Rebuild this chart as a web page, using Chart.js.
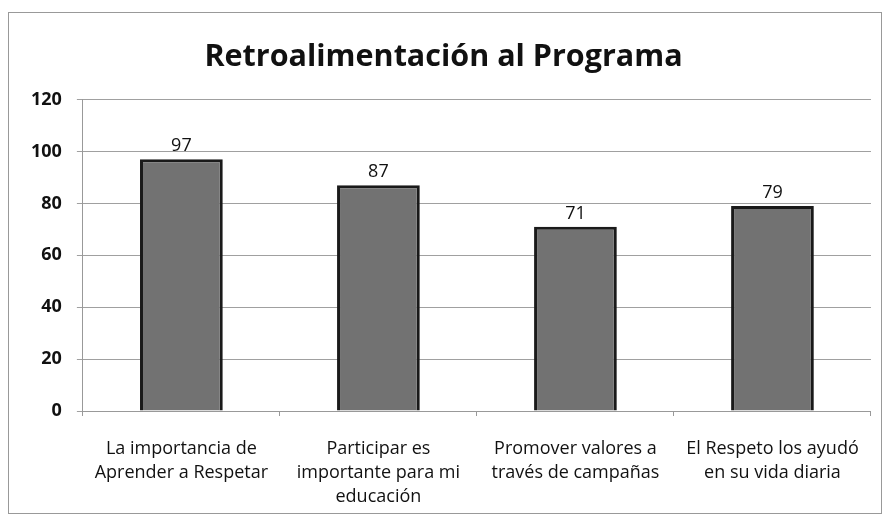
<!DOCTYPE html>
<html>
<head>
<meta charset="utf-8">
<script src="https://cdn.jsdelivr.net/npm/chart.js@4.4.0/dist/chart.umd.min.js"></script>
<style>
  body { margin: 0; background: #fff; }
  #box { position: absolute; left: 8px; top: 12px; width: 872px; height: 500px; border: 1px solid #999; }
</style>
</head>
<body>
<div id="box"><canvas id="myChart" width="872" height="500"></canvas></div>
<script>
var chartTitle = "Retroalimentación al Programa";
var Labels = [
  ["La importancia de", "Aprender a Respetar"],
  ["Participar es", "importante para mi", "educación"],
  ["Promover valores a", "través de campañas"],
  ["El Respeto los ayudó", "en su vida diaria"]
];
var Count = [97, 87, 71, 79];
var yTicks = [0, 20, 40, 60, 80, 100, 120];

// values over the bars
var valueLabels = {
  id: "valueLabels",
  afterDatasetsDraw: function (chart) {
    var ctx = chart.ctx;
    var meta = chart.getDatasetMeta(0);
    ctx.save();
    ctx.font = "18px 'Open Sans'";
    ctx.fillStyle = "#111";
    ctx.textAlign = "center";
    ctx.textBaseline = "bottom";
    for (var i = 0; i < meta.data.length; i++) {
      var bar = meta.data[i];
      ctx.fillText(chart.data.datasets[0].data[i], bar.x, bar.y - 4);
    }
    ctx.restore();
  }
};

var ctx = document.getElementById("myChart").getContext("2d");
var myChart = new Chart(ctx, {
  type: "bar",
  data: {
    labels: Labels,
    datasets: [
      {
        data: Count,
        backgroundColor: "#727272",
        borderColor: "#1a1a1a",
        borderWidth: 3,
        categoryPercentage: 1,
        barPercentage: 0.42
      }
    ]
  },
  options: {
    responsive: false,
    animation: false,
    layout: { padding: { left: 7, right: 10, top: 0, bottom: 0 } },
    plugins: {
      legend: { display: false },
      tooltip: { enabled: false },
      title: {
        display: true,
        text: chartTitle,
        color: "#111",
        font: { family: "'Open Sans'", size: 30.5, weight: "bold" },
        padding: { top: 26, bottom: 24 }
      }
    },
    scales: {
      x: {
        afterFit: function (axis) { axis.height = 102; },
        grid: { display: true, drawOnChartArea: false, drawTicks: true, tickLength: 5, color: "#999", offset: true },
        border: { color: "#999" },
        ticks: { color: "#111", font: { family: "'Open Sans'", size: 18, lineHeight: 1.33 }, padding: 21, maxRotation: 0 }
      },
      y: {
        min: 0,
        max: 120,
        afterBuildTicks: function (axis) {
          axis.ticks = yTicks.map(function (v) { return { value: v }; });
        },
        grid: { color: "#a0a0a0", tickLength: 6 },
        border: { color: "#999" },
        ticks: { color: "#111", font: { family: "'Open Sans'", size: 18, weight: "bold" }, padding: 15 }
      }
    }
  },
  plugins: [valueLabels]
});
</script>
</body>
</html>
